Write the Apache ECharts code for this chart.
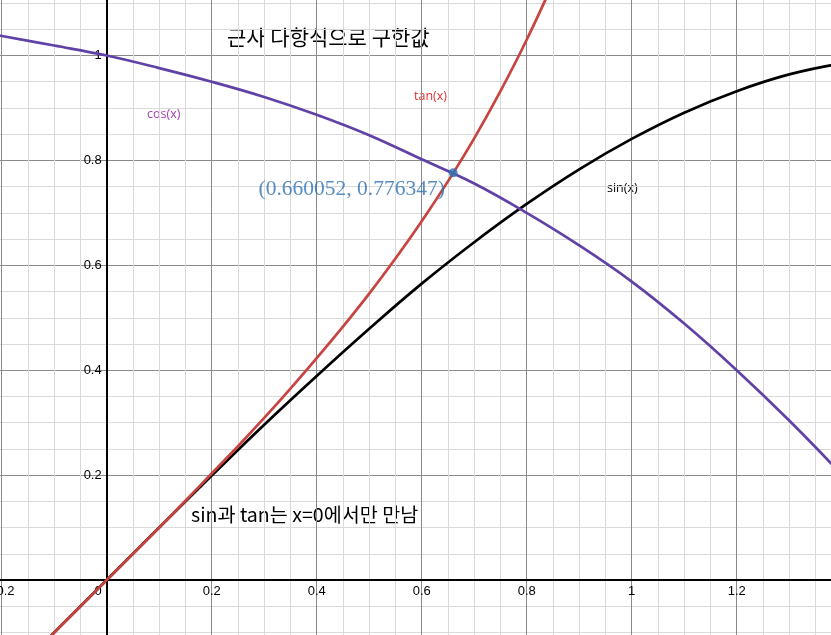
<!DOCTYPE html>
<html><head><meta charset="utf-8">
<script src="https://cdn.jsdelivr.net/npm/echarts@6/dist/echarts.min.js"></script>
<style>html,body{margin:0;padding:0;background:#fff;overflow:hidden;width:831px;height:635px}
#c{position:absolute;left:-104px;top:-50px;width:946px;height:735px}</style>
</head><body><div id="c"></div>
<script>
// ---- data ----
const sinX = [-0.2,-0.1,0,0.1,0.2,0.3,0.4,0.5,0.6,0.7,0.8,0.9,1.0,1.1,1.2,1.3,1.4];
const sinValues = [-0.199,-0.100,0,0.100,0.199,0.296,0.389,0.479,0.565,0.644,0.717,0.783,0.841,0.891,0.932,0.964,0.985];
const cosX = [-0.21,-0.1,0,0.1,0.2,0.3,0.4,0.5,0.6,0.7,0.8,0.9,1.0,1.1,1.2,1.3,1.4];
const cosValues = [1.039,1.019,1.0,0.976,0.950,0.921,0.887,0.848,0.802,0.756,0.700,0.638,0.569,0.489,0.400,0.304,0.201];
const tanX = [-0.2,-0.15,-0.1,-0.05,0,0.05,0.1,0.15,0.2,0.25,0.3,0.35,0.4,0.45,0.5,0.55,0.6,0.65,0.7,0.75,0.8,0.85];
const tanValues = [-0.203,-0.151,-0.100,-0.050,0,0.050,0.100,0.151,0.203,0.255,0.309,0.365,0.423,0.483,0.546,0.613,0.684,0.760,0.842,0.932,1.030,1.138];
const pointXY = [0.660052, 0.776347];
const titleText = '근사 다항식으로 구한값';
const noteText = 'sin과 tan는 x=0에서만 만남';
const curveNames = ['sin(x)', 'cos(x)', 'tan(x)'];

const zip = (xs, ys) => xs.map((x, i) => [x, ys[i]]);
const fmt = v => String(Math.round(v * 10) / 10);
// page offset of the (larger) chart container
const OX = 104, OY = 50;

const chart = echarts.init(document.getElementById('c'), null, {renderer: 'canvas'});
const lineStyleBase = {width: 2.7};
const labelFont = {fontSize: 13, color: '#000', fontFamily: 'Liberation Sans, Arial'};
chart.setOption({
  backgroundColor: '#ffffff',
  animation: false,
  grid: {left: 0.7, right: 0.3, top: 0.6, bottom: 0.1, containLabel: false, outerBoundsMode: 'none'},
  xAxis: {
    type: 'value', min: -0.4, max: 1.4, interval: 0.2, position: 'bottom', offset: -104.9,
    axisLine: {onZero: false, lineStyle: {color: '#000', width: 2}},
    axisTick: {show: false},
    axisLabel: Object.assign({
      margin: 5,
      formatter: v => Math.abs(v) < 1e-9 ? '{o|0}' : fmt(v).replace('-', '−'),
      rich: {o: Object.assign({padding: [0, 17, 0, 0]}, labelFont)}
    }, labelFont),
    splitLine: {show: true, lineStyle: {color: '#8a8a8a', width: 1}},
    minorTick: {show: false, splitNumber: 4},
    minorSplitLine: {show: true, lineStyle: {color: '#dadada', width: 1}}
  },
  yAxis: {
    type: 'value', min: -0.2, max: 1.2, interval: 0.2, position: 'left', offset: -210,
    axisLine: {onZero: false, lineStyle: {color: '#000', width: 2}},
    axisTick: {show: false},
    axisLabel: Object.assign({
      margin: 5,
      formatter: v => Math.abs(v) < 1e-9 ? '' : fmt(v).replace('-', '−')
    }, labelFont),
    splitLine: {show: true, lineStyle: {color: '#8a8a8a', width: 1}},
    minorTick: {show: false, splitNumber: 4},
    minorSplitLine: {show: true, lineStyle: {color: '#dadada', width: 1}}
  },
  series: [
    {name: curveNames[0], type: 'line', data: zip(sinX, sinValues), smooth: 0.4, showSymbol: false,
     lineStyle: Object.assign({color: '#000000'}, lineStyleBase), z: 3},
    {name: curveNames[1], type: 'line', data: zip(cosX, cosValues), smooth: 0.4, showSymbol: false,
     lineStyle: Object.assign({color: '#6042a6'}, lineStyleBase), z: 4},
    {name: curveNames[2], type: 'line', data: zip(tanX, tanValues), smooth: 0.4, showSymbol: false,
     lineStyle: Object.assign({color: '#c74440'}, lineStyleBase), z: 5},
    {type: 'scatter', data: [pointXY], symbolSize: 9, itemStyle: {color: '#2d70b3'}, z: 6,
     label: {show: true, position: [-97, 21], align: 'center', verticalAlign: 'middle',
       formatter: p => '(' + p.value[0] + ', ' + p.value[1] + ')',
       fontFamily: 'Liberation Serif, Times New Roman, serif', fontSize: 21.5, color: '#2d70b3'}}
  ],
  graphic: [
    {type: 'text', left: 227 + OX, top: 27 + OY, style: {text: titleText, font: '21px "Noto Sans CJK KR"', fill: '#000'}},
    {type: 'text', left: 191 + OX, top: 505 + OY, style: {text: noteText, font: '19.6px "Noto Sans CJK KR"', fill: '#000'}},
    {type: 'text', left: 147 + OX, top: 108 + OY, style: {text: curveNames[1], font: '12.5px "Open Sans"', fill: '#a23fb2'}},
    {type: 'text', left: 414 + OX, top: 90 + OY, style: {text: curveNames[2], font: '12.5px "Open Sans"', fill: '#e53030'}},
    {type: 'text', left: 607 + OX, top: 182 + OY, style: {text: curveNames[0], font: '12.5px "Open Sans"', fill: '#000'}}
  ]
});
</script></body></html>
